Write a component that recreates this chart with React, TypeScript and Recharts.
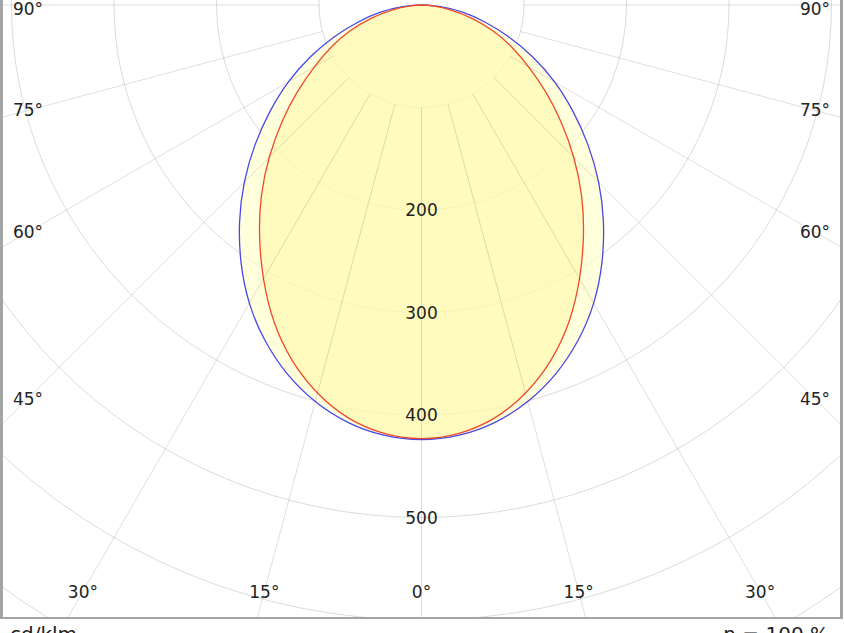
import React from 'react';
import { RadarChart, Radar, PolarGrid, PolarAngleAxis, PolarRadiusAxis, Curve } from 'recharts';

// Gamma angles (degrees from nadir) at which the curves were read
const GAMMA_HALF = [0, 5, 10, 15, 20, 25, 30, 35, 40, 45, 50, 55, 60, 65, 70, 75, 80, 85, 90];
// C0-C180 plane (blue), cd/klm
const C0_C180 = [424, 421.3, 413.4, 400.4, 382.9, 361.2, 335.9, 306.9, 276.1, 244.4, 211.9, 180.1, 149.9, 119.5, 90.4, 63.9, 41.3, 18.7, 0];
// C90-C270 plane (red), cd/klm
const C90_C270 = [423, 419.5, 409.3, 391.9, 368.9, 340.7, 308.3, 275.4, 243.0, 210.0, 177.9, 147.9, 120.6, 97.0, 74.4, 51.4, 30.1, 10.9, 0];

// all categories around the full circle (5° steps), starting straight up
const GAMMA_FULL = Array.from({ length: 72 }, (_, i) => -180 + 5 * i);
const RADIUS_DOMAIN: [number, number] = [0, 800];
const RADIUS_TICK_COUNT = 9;
const RADIUS_LABELS = [200, 300, 400, 500];
const ANGLE_STEP = 15;

const data = GAMMA_FULL.map((g) => {
  const idx = GAMMA_HALF.indexOf(Math.abs(g));
  return {
    gamma: g,
    c0: idx >= 0 ? C0_C180[idx] : 0,
    c90: idx >= 0 ? C90_C270[idx] : 0,
  };
});

// layout
const CHART_W = 837;
const CHART_H = 617;
const CX = 418.5;
const CY = 5;
const OUTER_R = 820;
const INNER_GRID_R = (OUTER_R * 100) / RADIUS_DOMAIN[1];
const LABEL_HALF_W = 393.5;
const LABEL_DY = 586.5;
const RAD = Math.PI / 180;
const FONT = '"DejaVu Sans", Verdana, sans-serif';
const GRID = '#dcdcdc';

const AngleTick = (props: any) => {
  const { payload } = props;
  const g = Number(payload?.value);
  if (!Number.isFinite(g) || g % ANGLE_STEP !== 0) return <g />;
  const a = -Number(payload.coordinate) * RAD;
  const ux = Math.cos(a);
  const uy = Math.sin(a);
  const x1 = CX + INNER_GRID_R * ux;
  const y1 = CY + INNER_GRID_R * uy;
  const x2 = CX + 1600 * ux;
  const y2 = CY + 1600 * uy;
  let label: React.ReactNode = null;
  if (Math.abs(g) <= 90) {
    let t = Infinity;
    if (Math.abs(ux) > 1e-9) t = Math.min(t, LABEL_HALF_W / Math.abs(ux));
    if (uy > 1e-9) t = Math.min(t, LABEL_DY / uy);
    const lx = CX + t * ux;
    const ly = Math.max(CY + t * uy, CY + 4);
    label = (
      <text x={lx} y={ly} textAnchor="middle" dominantBaseline="central" fontFamily={FONT} fontSize={17} fill="#222">
        {`${Math.abs(g)}°`}
      </text>
    );
  }
  return (
    <g>
      <line x1={x1} y1={y1} x2={x2} y2={y2} stroke="#000" strokeOpacity={0.13} strokeWidth={1} />
      {label}
    </g>
  );
};

const RadiusTick = (props: any) => {
  const { x, y, payload } = props;
  const v = Number(payload?.value);
  if (!RADIUS_LABELS.includes(v)) return <g />;
  return (
    <text x={x} y={y} textAnchor="middle" dominantBaseline="central" fontFamily={FONT} fontSize={17} fill="#222">
      {v}
    </text>
  );
};

// smooth outline through the points that the radar computed (only the lit hemisphere)
const makeSmoothShape = (stroke: string, fill: string, fillOpacity: number) => (props: any) => {
  const pts = (props.points || []).filter((p: any) => Math.abs(Number(p?.payload?.gamma)) <= 90);
  return (
    <Curve
      type="natural"
      points={pts}
      stroke={stroke}
      strokeWidth={1.3}
      fill={fill}
      fillOpacity={fillOpacity}
    />
  );
};

const BLUE_SHAPE = makeSmoothShape('#4848e8', '#ffffc0', 0.55);
const RED_SHAPE = makeSmoothShape('#ee4b2b', '#fff5a0', 0.5);

export default function App() {
  return (
    <div style={{ position: 'absolute', left: 0, top: 0, width: 844, height: 633, background: '#fff', overflow: 'hidden' }}>
      <div
        style={{
          position: 'absolute',
          left: 0,
          top: 0,
          width: CHART_W,
          height: CHART_H,
          borderLeft: '3px solid #a4a4a4',
          borderRight: '3px solid #a4a4a4',
          borderBottom: '2px solid #a4a4a4',
          overflow: 'hidden',
        }}
      >
        <RadarChart
          width={CHART_W}
          height={CHART_H}
          data={data}
          cx={CX}
          cy={CY}
          outerRadius={OUTER_R}
          startAngle={90}
          endAngle={-270}
          margin={{ top: 0, right: 0, bottom: 0, left: 0 }}
        >
          <PolarGrid gridType="circle" radialLines={false} stroke={GRID} />
          <PolarAngleAxis dataKey="gamma" tick={AngleTick} tickLine={false} axisLine={false} />
          <PolarRadiusAxis
            angle={-90}
            domain={RADIUS_DOMAIN}
            tickCount={RADIUS_TICK_COUNT}
            axisLine={false}
            tickLine={false}
            tick={RadiusTick}
          />
          <Radar
            dataKey="c0"
            stroke="#4848e8"
            fill="#ffffc0"
            shape={BLUE_SHAPE}
            dot={false}
            isAnimationActive={false}
          />
          <Radar
            dataKey="c90"
            stroke="#ee4b2b"
            fill="#fff5a0"
            shape={RED_SHAPE}
            dot={false}
            isAnimationActive={false}
          />
        </RadarChart>
      </div>
      <div style={{ position: 'absolute', left: 10, top: 622, fontFamily: FONT, fontSize: 20, color: '#222', whiteSpace: 'nowrap' }}>
        cd/klm
      </div>
      <div style={{ position: 'absolute', right: 15, top: 622, fontFamily: FONT, fontSize: 20, color: '#222', whiteSpace: 'nowrap' }}>
        η = 100 %
      </div>
    </div>
  );
}
